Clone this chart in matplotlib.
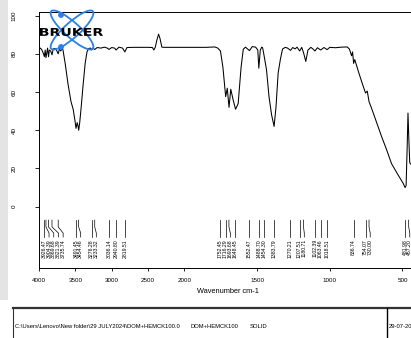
import numpy as np
import matplotlib
matplotlib.use("Agg")
import matplotlib.pyplot as plt
from matplotlib.patches import Ellipse, Circle, PathPatch, Rectangle
from matplotlib.lines import Line2D
from matplotlib.textpath import TextPath
from matplotlib.font_manager import FontProperties
from matplotlib.transforms import Affine2D

plt.rcParams['font.family'] = ['Liberation Sans', 'DejaVu Sans']

# IR spectrum, wavenumber (cm-1) vs transmittance (%)
wavenumber = [4000, 3980, 3960, 3941, 3926, 3915, 3904, 3895, 3882, 3869, 3858,
              3840, 3821, 3805, 3782, 3760, 3736, 3720, 3700, 3682, 3670, 3640,
              3600, 3560, 3530, 3505, 3491, 3475, 3462, 3454, 3440, 3420, 3395,
              3365, 3340, 3318, 3290, 3276, 3260, 3233, 3200, 3150, 3100, 3060,
              3036, 3000, 2960, 2940, 2900, 2850, 2819, 2790, 2700, 2600, 2500,
              2440, 2420, 2400, 2380, 2355, 2335, 2310, 2280, 2100, 2000, 1850,
              1790, 1770, 1752, 1735, 1716, 1705, 1693, 1681, 1665, 1648, 1630,
              1610, 1595, 1580, 1552, 1533, 1510, 1495, 1488, 1478, 1468, 1462,
              1454, 1435, 1418, 1400, 1383, 1370, 1355, 1340, 1325, 1306, 1290,
              1270, 1255, 1238, 1225, 1207, 1193, 1180, 1165, 1150, 1130, 1115,
              1102, 1085, 1063, 1040, 1018, 1000, 960, 920, 880, 865, 850, 843,
              836, 828, 800, 770, 754, 742, 730, 710, 680, 645, 610, 575, 530,
              495, 482, 475, 468, 462, 456, 450, 440, 400]
transmittance = [82.5, 83, 82, 80.3, 78.5, 82, 78, 80, 83, 78.5, 82,
                 81.5, 79.5, 82.5, 82.9, 82, 80, 82.5, 81.5, 83, 82, 75,
                 64, 55, 51, 45, 41, 44, 42, 40, 44, 52, 63,
                 75, 81, 82.8, 83, 82, 83, 82.3, 83.3, 83, 83.5, 83,
                 82.3, 83.3, 83, 82, 83.5, 83, 81, 83.3, 83.4, 83.4, 83.4,
                 83.3, 82, 83.5, 87, 90.3, 88, 83.5, 83.4, 83.4, 83.4, 83.4,
                 83.6, 83, 81.5, 73, 57.6, 62, 52, 61.5, 56, 51, 54,
                 73, 82.4, 83.5, 81.7, 83.8, 83.5, 82, 72.5, 82, 83.5, 83.2,
                 80, 71.6, 57.6, 48, 42, 52, 70, 77, 82.5, 83.4, 83,
                 81.8, 83.3, 82.6, 83.5, 81.5, 83.4, 80.5, 76, 82, 83.4, 82.5,
                 81.5, 83.2, 82, 83.3, 82.2, 83.4, 83.2, 83.5, 83.6, 82.5, 79, 81,
                 75, 77, 70, 63, 59.5, 60.5, 55, 51, 44.5, 37, 30, 22.5, 16.6,
                 12.2, 10, 11, 30, 49, 35, 23, 22, 20]

peak_labels = ["3926.47", "3904.39", "3869.68", "3821.39", "3735.74",
               "3491.45", "3454.46", "3276.28", "3233.32", "3036.14",
               "2940.80", "2819.51", "1752.45", "1716.29", "1693.68",
               "1648.45", "1552.47", "1488.70", "1454.30", "1383.79",
               "1270.21", "1207.51", "1180.71", "1102.39", "1063.46",
               "1018.51", "836.74", "754.07", "730.00", "481.98", "457.20"]
peaks = [float(s) for s in peak_labels]

x_ticks = [4000, 3500, 3000, 2500, 2000, 1500, 1000, 500]
y_ticks = [0, 20, 40, 60, 80, 100]

W, H = 411, 338
fig = plt.figure(figsize=(W / 100, H / 100), dpi=100)
# pixel coordinates of the image, y pointing down
px = Affine2D().scale(1, -1).translate(0, H).scale(1 / W, 1 / H) + fig.transFigure


def fwd(w):
    w = np.asarray(w, dtype=float)
    return np.where(w >= 2000, 2000 + (w - 2000) / 2, w)


def inv(u):
    u = np.asarray(u, dtype=float)
    return np.where(u >= 2000, 2000 + (u - 2000) * 2, u)


ax = fig.add_axes([39 / W, (H - 268) / H, 378 / W, 256 / H])
ax.set_xscale('function', functions=(fwd, inv))
ax.set_xlim(4000, 400)
ax.set_ylim(-32.1, 101.9)
ax.plot(wavenumber, transmittance, color='black', lw=0.75)

ax.set_xticks(x_ticks)
ax.set_xticklabels([str(t) for t in x_ticks])
ax.xaxis.set_minor_locator(matplotlib.ticker.NullLocator())
ax.set_yticks(y_ticks)
ax.set_yticklabels([str(t) for t in y_ticks], rotation=90, va='center')
ax.tick_params(axis='x', length=2.5, width=0.6, labelsize=4.5, pad=4.5)
ax.tick_params(axis='y', length=3, width=0.6, labelsize=4.5, pad=13)
for s in ax.spines.values():
    s.set_linewidth(0.7)
ax.set_xlabel("Wavenumber cm-1", fontsize=5.3, labelpad=4)

# peak labels with leader lines, spread apart where they crowd
gap = 4.7
xs = [ax.transData.transform((p, 0))[0] for p in peaks]
placed = []
for x in xs:
    placed.append(x if not placed else max(x, placed[-1] + gap))
for p, xl, lab in zip(peaks, placed, peak_labels):
    wl = ax.transData.inverted().transform((xl, 0))[0]
    ax.plot([p, p, wl, wl], [-7.0, -10.6, -13.8, -15.9], color='black', lw=0.5)
    ax.text(wl, -16.9, lab, rotation=90, ha='center', va='top', fontsize=3.7)

# Bruker logo
for ang in (42, -42):
    fig.patches.append(Ellipse((72, 30), 56, 15, angle=ang, fill=False,
                               ec='#2b80e6', lw=1.3, transform=px))
for cx, cy in ((61, 15), (61, 47)):
    fig.patches.append(Circle((cx, cy), 2.2, color='#2b80e6', transform=px))
tp = TextPath((0, 0), "BRUKER", size=10,
              prop=FontProperties(family='DejaVu Sans', weight='bold'))
bb = tp.get_extents()
sx, sy = 63 / bb.width, 8 / bb.height
tpath = Affine2D().translate(-bb.x0, -bb.y0).scale(sx, sy).translate(40, H - 36).transform_path(tp)
fig.patches.append(PathPatch(tpath, fc='black', ec='none',
                             transform=Affine2D().scale(1 / W, 1 / H) + fig.transFigure))

# footer box
fig.lines.append(Line2D([13, W], [308, 308], color='#333333', lw=1.6, transform=px))
fig.lines.append(Line2D([13, 13], [308, H], color='#333333', lw=0.8, transform=px))
fig.lines.append(Line2D([387, 387], [308, H], color='black', lw=1.0, transform=px))
footer = [(15, r"C:\Users\Lenovo\New folder\29 JULY2024\DOM+HEMCK100.0"),
          (190, "DOM+HEMCK100"), (250, "SOLID"), (388.5, "29-07-2024")]
for fx, txt in footer:
    fig.text(fx / W, 1 - 327 / H, txt, fontsize=4.2, va='center', ha='left')

# grey strip at the left edge
fig.patches.append(Rectangle((0, 0), 8, 300, color='#e4e4e4', lw=0, transform=px))

fig.savefig("out.png", dpi=100)
